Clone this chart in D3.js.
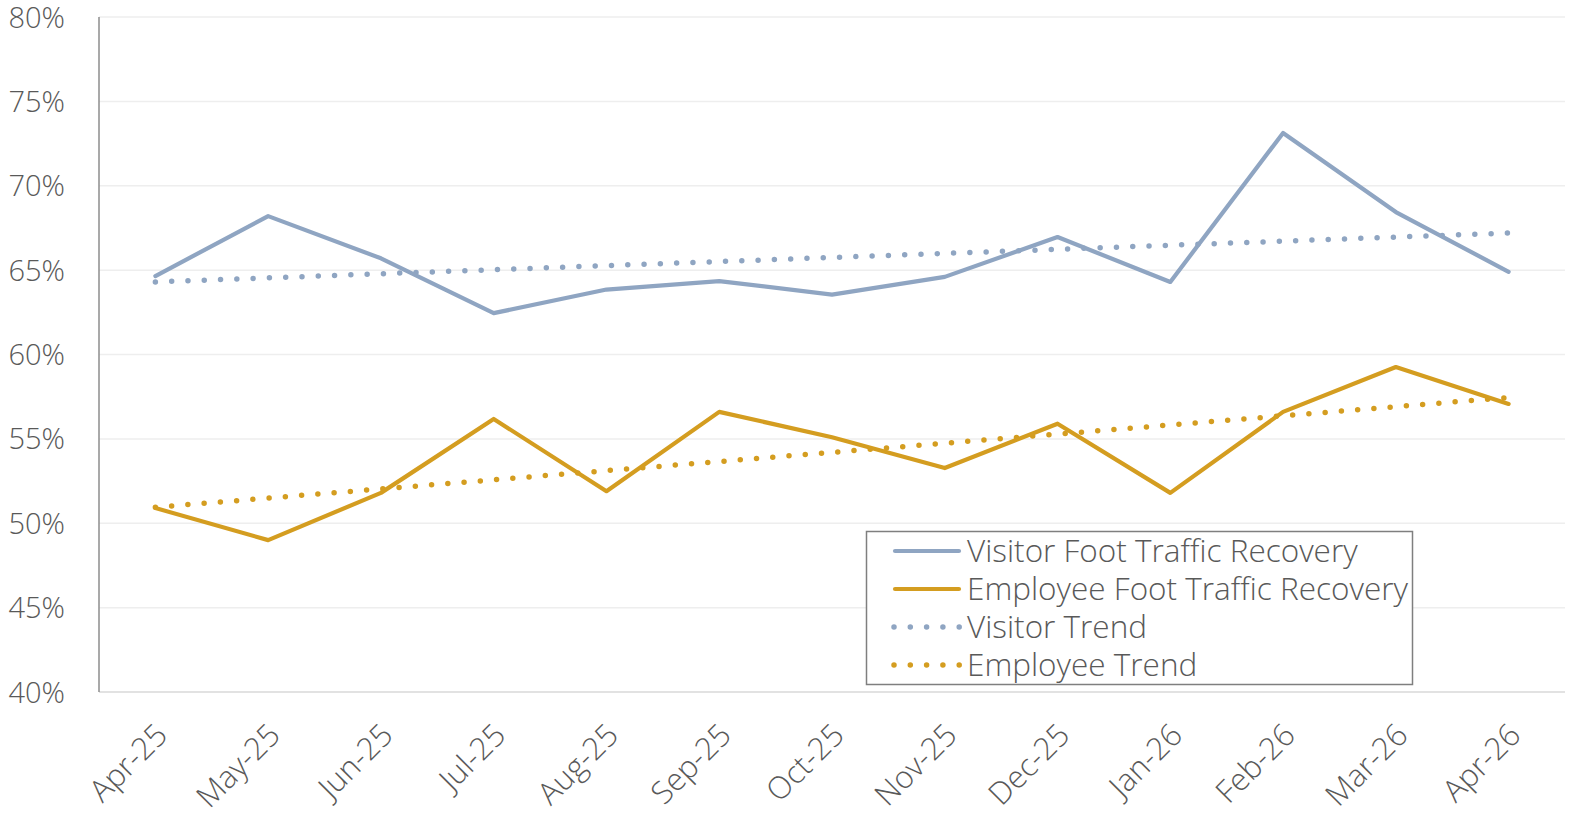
<!DOCTYPE html>
<html><head><meta charset="utf-8">
<script src="https://cdn.jsdelivr.net/npm/d3@7"></script>
<style>body{margin:0;background:#fff}svg{display:block}text{font-family:"Open Sans",sans-serif;fill:#595959;font-weight:300}</style>
</head><body><svg id="c" width="1576" height="814"></svg>
<script>
const categories = ["Apr-25","May-25","Jun-25","Jul-25","Aug-25","Sep-25","Oct-25","Nov-25","Dec-25","Jan-26","Feb-26","Mar-26","Apr-26"];
const visitor = [64.65,68.2,65.7,62.45,63.85,64.35,63.55,64.6,66.96,64.3,73.13,68.44,64.9];
const employee = [50.9,49.0,51.8,56.18,51.9,56.6,55.1,53.27,55.9,51.8,56.6,59.26,57.07];
const visitorTrend = [64.3,67.2];   // trendline at first and last month
const employeeTrend = [50.95,57.45];
const yTicks = [40,45,50,55,60,65,70,75,80];
const seriesNames = ["Visitor Foot Traffic Recovery","Employee Foot Traffic Recovery","Visitor Trend","Employee Trend"];

const svg = d3.select("#c");
const L=99,R=1565,T=17,B=692;
const x = d3.scalePoint().domain(categories).range([L,R]).padding(0.5);
const y = d3.scaleLinear().domain([40,80]).range([B,T]);
const cV="#8FA5C2", cE="#D49D20";

svg.append("g").selectAll("line").data(yTicks.slice(1)).join("line")
  .attr("x1",L).attr("x2",R).attr("y1",d=>y(d)).attr("y2",d=>y(d))
  .attr("stroke","#eeeeee").attr("stroke-width",1.5);
svg.append("line").attr("x1",L).attr("x2",R).attr("y1",B).attr("y2",B).attr("stroke","#d9d9d9").attr("stroke-width",1.5);
svg.append("line").attr("x1",L).attr("x2",L).attr("y1",T).attr("y2",B).attr("stroke","#8c8c8c").attr("stroke-width",1.5);

svg.append("g").selectAll("text").data(yTicks).join("text")
  .attr("x",65).attr("y",d=>y(d)+10.5).attr("text-anchor","end")
  .style("font-size","29px").text(d=>d+"%");

svg.append("g").selectAll("text").data(categories).join("text")
  .attr("transform",d=>`translate(${x(d)+6},${B+37}) rotate(-45)`)
  .attr("text-anchor","end").attr("dy","0.36em").style("font-size","31px").text(d=>d);

const line = d3.line().x((d,i)=>x(categories[i])).y(d=>y(d));
const trendLine = d3.line().x((d,i)=>x(categories[i===0?0:categories.length-1])).y(d=>y(d));

svg.append("path").attr("d",trendLine(visitorTrend)).attr("fill","none").attr("stroke",cV)
  .attr("stroke-width",5.5).attr("stroke-linecap","round").attr("stroke-dasharray","0 16.3");
svg.append("path").attr("d",trendLine(employeeTrend)).attr("fill","none").attr("stroke",cE)
  .attr("stroke-width",5.5).attr("stroke-linecap","round").attr("stroke-dasharray","0 16.3");
svg.append("path").attr("d",line(visitor)).attr("fill","none").attr("stroke",cV)
  .attr("stroke-width",4.2).attr("stroke-linejoin","round").attr("stroke-linecap","round");
svg.append("path").attr("d",line(employee)).attr("fill","none").attr("stroke",cE)
  .attr("stroke-width",4.2).attr("stroke-linejoin","round").attr("stroke-linecap","round");

// legend
const lg = svg.append("g");
lg.append("rect").attr("x",866.5).attr("y",531.5).attr("width",546).attr("height",153)
  .attr("fill","#fff").attr("stroke","#7f7f7f").attr("stroke-width",1.5);
const styles=[{c:cV,d:null},{c:cE,d:null},{c:cV,d:"0 16.3"},{c:cE,d:"0 16.3"}];
seriesNames.forEach((n,i)=>{
  const yy=551+i*38;
  const s=styles[i];
  lg.append("line").attr("x1",s.d?894:895).attr("x2",s.d?960:959).attr("y1",yy).attr("y2",yy)
    .attr("stroke",s.c).attr("stroke-width",s.d?5.5:4.2).attr("stroke-linecap","round")
    .attr("stroke-dasharray",s.d);
  lg.append("text").attr("x",967).attr("y",yy+11).style("font-size","31.5px").text(n);
});
</script></body></html>
